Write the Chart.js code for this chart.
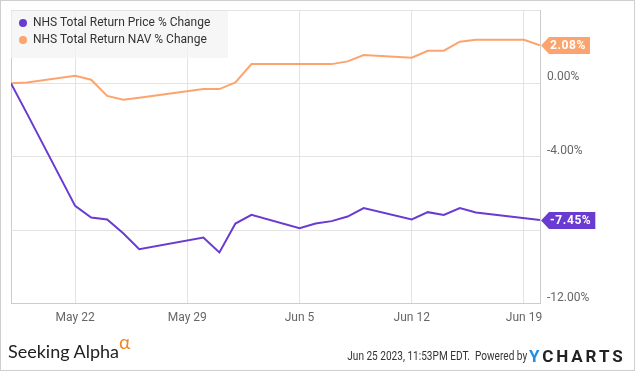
<!DOCTYPE html>
<html>
<head>
<meta charset="utf-8">
<script src="https://cdn.jsdelivr.net/npm/chart.js@4/dist/chart.umd.min.js"></script>
<style>
  html, body { margin: 0; padding: 0; background: #fff; }
  #wrap { position: relative; width: 635px; height: 371px; overflow: hidden; background: #fff; }
  #frame { position: absolute; left: 0; top: 0; width: 635px; height: 371px; box-sizing: border-box; border: 1px solid #cfcfcf; pointer-events: none; }
  canvas { position: absolute; left: 0; top: 0; }
  #legend { position: absolute; left: 11px; top: 11px; width: 217px; height: 47px; background: rgba(243,243,243,0.75);
            font-family: Roboto, sans-serif; font-size: 12px; color: #333; box-sizing: border-box; padding-top: 3px; }
  .li { position: relative; height: 17px; line-height: 17px; padding-left: 22px; white-space: nowrap; }
  .dot { position: absolute; left: 8px; top: 5px; width: 8px; height: 8px; border-radius: 50%; }
  #sa { position: absolute; left: 8px; top: 339px; font-family: Lato, sans-serif; font-size: 18px; color: #222; white-space: nowrap; }
  #sa .al { color: #f2851f; font-size: 19px; position: relative; top: -9px; margin-left: 0px; }
  #stamp { position: absolute; right: 108px; top: 349px; font-family: Roboto, sans-serif; font-size: 12px; color: #333; white-space: nowrap;
           transform: scaleX(0.84); transform-origin: right center; }
  #yc { position: absolute; left: 529px; top: 346px; font-family: Roboto, sans-serif; font-weight: 700; font-size: 17px; letter-spacing: 2.9px; color: #222; white-space: nowrap; }
  #yc .y { color: #1e8fe6; }
</style>
</head>
<body>
<div id="wrap">
  <canvas id="c" width="635" height="371"></canvas>
  <div id="legend"></div>
  <div id="sa">Seeking Alpha<span class="al">α</span></div>
  <div id="stamp">Jun 25 2023, 11:53PM EDT.&nbsp;&nbsp;Powered by</div>
  <div id="yc"><span class="y">Y</span>CHARTS</div>
  <div id="frame"></div>
</div>
<script>
// ---- data ----
const dates = ['2023-05-18','2023-05-19','2023-05-22','2023-05-23','2023-05-24','2023-05-25','2023-05-26',
               '2023-05-30','2023-05-31','2023-06-01','2023-06-02','2023-06-05','2023-06-06','2023-06-07',
               '2023-06-08','2023-06-09','2023-06-12','2023-06-13','2023-06-14','2023-06-15','2023-06-16',
               '2023-06-19','2023-06-20'];
const priceChange = [0, -1.65, -6.68, -7.31, -7.42, -8.17, -9.04,
                     -8.40, -9.22, -7.64, -7.17, -7.89, -7.64, -7.51,
                     -7.26, -6.80, -7.42, -7.02, -7.17, -6.80, -7.04,
                     null, -7.45];
const navChange = [0, 0.05, 0.41, 0.20, -0.68, -0.89, -0.78,
                   -0.31, -0.31, 0.05, 1.05, 1.05, 1.05, 1.05,
                   1.20, 1.54, 1.40, 1.78, 1.78, 2.27, 2.38,
                   2.38, 2.08];
const seriesNames = ['NHS Total Return Price % Change', 'NHS Total Return NAV % Change'];
const seriesColors = ['#6a3bd0', '#fda46e'];
const xStart = '2023-05-18';
const xEnd = '2023-06-20';
const xTickDates = ['2023-05-22','2023-05-29','2023-06-05','2023-06-12','2023-06-19'];
const xTickLabels = ['May 22','May 29','Jun 5','Jun 12','Jun 19'];
const yTickValues = [4, 0, -4, -8, -12];
const yTickLabels = ['', '0.00%', '-4.00%', '', '-12.00%'];

// ---- helpers ----
const dayIdx = d => Math.round((Date.parse(d) - Date.parse(xStart)) / 86400000);
const toPts = arr => dates.map((d, i) => ({ x: dayIdx(d), y: arr[i] }));

// legend (HTML)
const lg = document.getElementById('legend');
seriesNames.forEach((n, i) => {
  const el = document.createElement('div');
  el.className = 'li';
  el.innerHTML = '<span class="dot" style="background:' + seriesColors[i] + '"></span>' + n;
  lg.appendChild(el);
});

const tagPlugin = {
  id: 'tags',
  afterDraw(chart) {
    const ctx = chart.ctx;
    const ys = chart.scales.y;
    const right = chart.chartArea.right;
    ctx.save();
    chart.data.datasets.forEach((ds, i) => {
      let last = null;
      for (let k = ds.data.length - 1; k >= 0; k--) { if (ds.data[k].y !== null) { last = ds.data[k].y; break; } }
      if (last === null) return;
      const y = Math.round(ys.getPixelForValue(last)) + 0.5;
      const txt = last.toFixed(2) + '%';
      ctx.font = 'bold 12px Roboto, sans-serif';
      ctx.letterSpacing = '0.6px';
      const w = ctx.measureText(txt).width + 5;
      const h = 17;
      const x0 = right + 1;
      ctx.fillStyle = ds.borderColor;
      ctx.beginPath();
      ctx.moveTo(x0, y);
      ctx.lineTo(x0 + 8, y - h / 2);
      ctx.lineTo(x0 + 8 + w, y - h / 2);
      ctx.lineTo(x0 + 8 + w, y + h / 2);
      ctx.lineTo(x0 + 8, y + h / 2);
      ctx.closePath();
      ctx.fill();
      ctx.fillStyle = '#fff';
      ctx.textBaseline = 'middle';
      ctx.textAlign = 'left';
      ctx.fillText(txt, x0 + 9, y + 0.5);
    });
    ctx.restore();
  }
};

new Chart(document.getElementById('c'), {
  type: 'line',
  data: {
    datasets: [
      { label: seriesNames[0], data: toPts(priceChange), borderColor: seriesColors[0], borderWidth: 2,
        pointRadius: 0, tension: 0, spanGaps: true, fill: false },
      { label: seriesNames[1], data: toPts(navChange), borderColor: seriesColors[1], borderWidth: 2,
        pointRadius: 0, tension: 0, spanGaps: true, fill: false }
    ]
  },
  options: {
    responsive: false,
    animation: false,
    events: [],
    layout: { padding: { left: 11, top: 10, right: 0, bottom: 0 } },
    plugins: { legend: { display: false }, tooltip: { enabled: false } },
    scales: {
      x: {
        type: 'linear',
        min: 0,
        max: dayIdx(xEnd),
        afterBuildTicks: s => { s.ticks = [0].concat(xTickDates.map(dayIdx)).map(v => ({ value: v })); },
        afterFit: s => { s.height = 67.5; s.paddingLeft = 0; s.paddingRight = 0; },
        ticks: {
          autoSkip: false, maxRotation: 0, padding: 7, color: '#666',
          font: { family: 'Roboto', size: 12 },
          callback: v => { const k = xTickDates.map(dayIdx).indexOf(v); return k >= 0 ? xTickLabels[k] : ''; }
        },
        grid: { drawTicks: false, color: c => (c.tick && c.tick.value === 0) ? '#cccccc' : '#e3e3e3' },
        border: { color: '#cccccc' }
      },
      y: {
        position: 'right',
        min: -12,
        max: 4,
        afterBuildTicks: s => { s.ticks = yTickValues.map(v => ({ value: v })); },
        afterFit: s => { s.width = 95; s.paddingTop = 0; s.paddingBottom = 0; },
        ticks: {
          padding: 7, labelOffset: -6, color: '#666',
          font: { family: 'Roboto', size: 12 },
          callback: v => { const k = yTickValues.indexOf(v); return k >= 0 ? yTickLabels[k] : ''; }
        },
        grid: { drawTicks: false, color: '#e3e3e3' },
        border: { color: '#cccccc' }
      }
    }
  },
  plugins: [tagPlugin]
});
</script>
</body>
</html>
